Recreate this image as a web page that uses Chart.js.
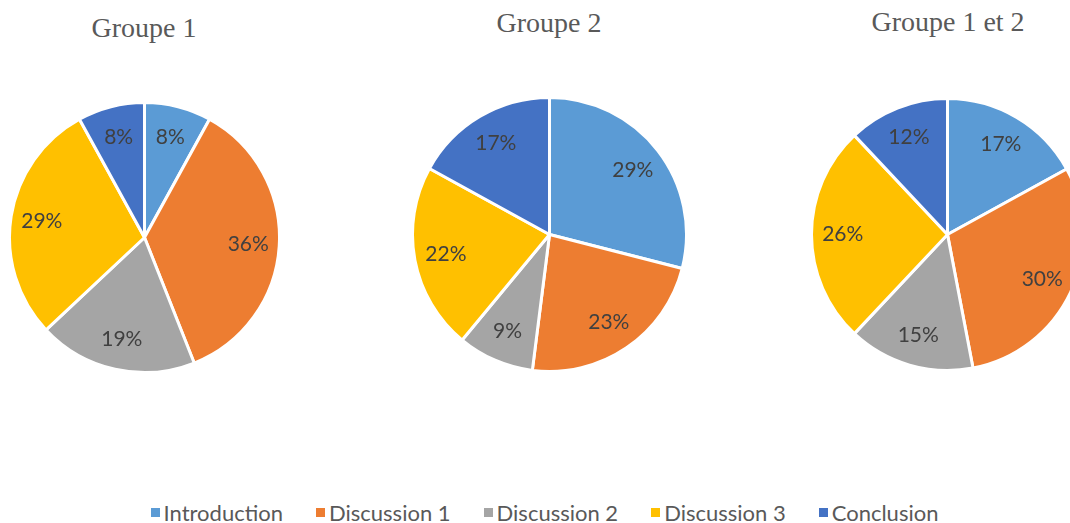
<!DOCTYPE html>
<html>
<head>
<meta charset="UTF-8">
<title>Groupes</title>
<script src="https://cdn.jsdelivr.net/npm/chart.js"></script>
<style>
    html, body { margin: 0; padding: 0; background: #fff; overflow: hidden; }
    body { width: 1070px; height: 523px; position: relative; }
    .titre {
        position: absolute; width: 240px; margin-left: -120px; text-align: center;
        font-family: "Liberation Serif", "DejaVu Serif", serif; font-size: 28px; color: #595959;
    }
    .pie-box { position: absolute; }
    .legende {
        position: absolute; left: 0; width: 1089px; top: 499px; display: flex; justify-content: center;
        font-family: Lato, "Open Sans", sans-serif; font-size: 22px; color: #595959;
    }
    .legende span.item { display: flex; align-items: center; margin: 0 16.5px; }
    .legende span.carre { width: 9px; height: 9px; margin-right: 4px; display: inline-block; }
</style>
</head>
<body>
<div class="titre" style="left:144px; top:12px;">Groupe 1</div>
<div class="titre" style="left:549px; top:7px;">Groupe 2</div>
<div class="titre" style="left:948px; top:6px;">Groupe 1 et 2</div>

<div class="pie-box" style="left:8px; top:101px; width:273px; height:273px;"><canvas id="pie1"></canvas></div>
<div class="pie-box" style="left:411px; top:96px; width:277px; height:277px;"><canvas id="pie2"></canvas></div>
<div class="pie-box" style="left:810px; top:97px; width:275px; height:275px;"><canvas id="pie3"></canvas></div>

<div class="legende" id="legende"></div>

<script>
// categories et valeurs (%)
const categories = ['Introduction', 'Discussion 1', 'Discussion 2', 'Discussion 3', 'Conclusion'];
const groupe1 = [8, 36, 19, 29, 8];
const groupe2 = [29, 23, 9, 22, 17];
const groupe12 = [17, 30, 15, 26, 12];
const couleurs = ['#5B9BD5', '#ED7D31', '#A5A5A5', '#FFC000', '#4472C4'];

// étiquettes de pourcentage dans les parts
const etiquettes = {
    id: 'etiquettes',
    afterDatasetsDraw(chart) {
        const ctx = chart.ctx;
        const meta = chart.getDatasetMeta(0);
        const valeurs = chart.data.datasets[0].data;
        ctx.save();
        ctx.font = '21px Lato, "Open Sans", sans-serif';
        ctx.fillStyle = '#404040';
        ctx.textAlign = 'center';
        ctx.textBaseline = 'middle';
        meta.data.forEach((arc, i) => {
            const p = arc.getProps(['x', 'y', 'startAngle', 'endAngle', 'outerRadius'], true);
            const a = (p.startAngle + p.endAngle) / 2;
            const r = p.outerRadius * 0.77;
            ctx.fillText(valeurs[i] + '%', p.x + Math.cos(a) * r, p.y + Math.sin(a) * r);
        });
        ctx.restore();
    }
};

function creerCamembert(canvasId, valeurs) {
    const ctx = document.getElementById(canvasId).getContext('2d');
    return new Chart(ctx, {
        type: 'pie',
        data: {
            labels: categories,
            datasets: [{
                data: valeurs,
                backgroundColor: couleurs,
                borderColor: '#ffffff',
                borderWidth: 3
            }]
        },
        options: {
            responsive: true,
            maintainAspectRatio: false,
            animation: false,
            layout: { padding: 0 },
            plugins: {
                legend: { display: false },
                tooltip: { enabled: false }
            }
        },
        plugins: [etiquettes]
    });
}

creerCamembert('pie1', groupe1);
creerCamembert('pie2', groupe2);
creerCamembert('pie3', groupe12);

// légende commune
const legende = document.getElementById('legende');
categories.forEach((nom, i) => {
    const item = document.createElement('span');
    item.className = 'item';
    const carre = document.createElement('span');
    carre.className = 'carre';
    carre.style.background = couleurs[i];
    item.appendChild(carre);
    item.appendChild(document.createTextNode(nom));
    legende.appendChild(item);
});
</script>
</body>
</html>
